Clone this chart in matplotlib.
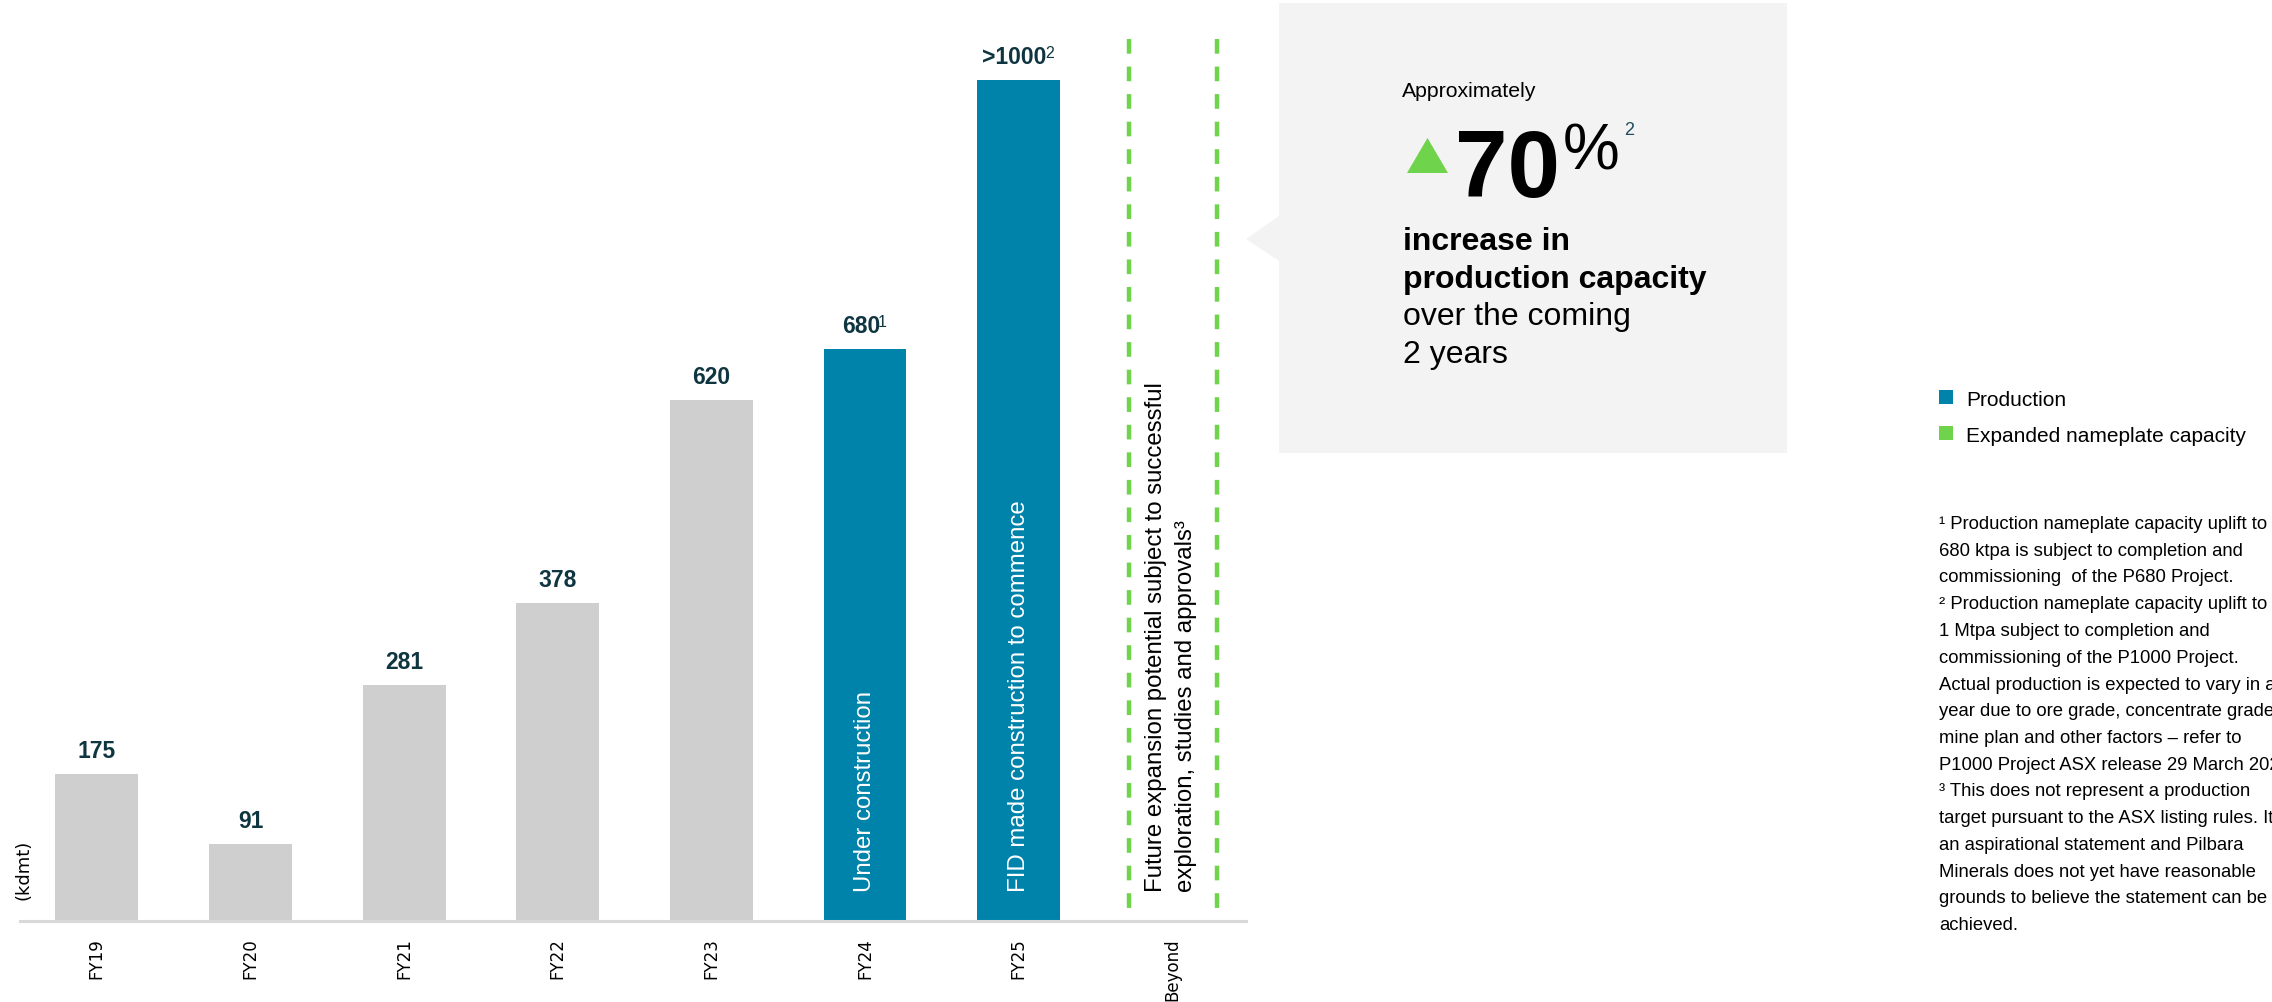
import matplotlib.pyplot as plt
from matplotlib.patches import Rectangle, Polygon

plt.rcParams['font.family'] = ['Liberation Sans', 'DejaVu Sans']

GREY = '#cfcfcf'
BLUE = '#0083ab'
GREEN = '#6fd34b'
LABEL = '#0f3540'
BOX = '#f3f3f3'

# chart data
categories = ['FY19', 'FY20', 'FY21', 'FY22', 'FY23', 'FY24', 'FY25', 'Beyond']
production = [175, 91, 281, 378, 620, 680, 1000]
value_labels = ['175', '91', '281', '378', '620', '680', '>1000']
label_notes = ['', '', '', '', '', '1', '2']
bar_colors = [GREY] * 5 + [BLUE] * 2
bar_notes = {5: 'Under construction', 6: 'FID made construction to commence'}
beyond_lines = ['Future expansion potential subject to successful',
                'exploration, studies and approvals\u00b3']

legend_items = [('Production', BLUE), ('Expanded nameplate capacity', GREEN)]

callout_lines = [('increase in', 'bold'), ('production capacity', 'bold'),
                 ('over the coming', 'normal'), ('2 years', 'normal')]

footnotes = [
    '\u00b9 Production nameplate capacity uplift to',
    '680 ktpa is subject to completion and',
    'commissioning  of the P680 Project.',
    '\u00b2 Production nameplate capacity uplift to ~',
    '1 Mtpa subject to completion and',
    'commissioning of the P1000 Project.',
    'Actual production is expected to vary in any',
    'year due to ore grade, concentrate grade,',
    'mine plan and other factors \u2013 refer to',
    'P1000 Project ASX release 29 March 2023.',
    '\u00b3 This does not represent a production',
    'target pursuant to the ASX listing rules. It is',
    'an aspirational statement and Pilbara',
    'Minerals does not yet have reasonable',
    'grounds to believe the statement can be',
    'achieved.',
]

W, H = 2272, 1003
fig = plt.figure(figsize=(W / 100, H / 100), dpi=100)

# overlay in pixel units for the callout, legend and notes
deco = fig.add_axes([0, 0, 1, 1], zorder=0)
deco.set_xlim(0, W)
deco.set_ylim(H, 0)
deco.axis('off')

ax = fig.add_axes([20 / W, 1 - 922 / H, 1226 / W, 882 / H], zorder=1)
ax.patch.set_visible(False)

x = list(range(len(production)))
ax.bar(x, production, width=0.54, color=bar_colors)
ax.set_xlim(-0.5, 7.48)
ax.set_ylim(0, 1049)

for s in ['top', 'right', 'left']:
    ax.spines[s].set_visible(False)
ax.spines['bottom'].set_color('#d9d9d9')
ax.spines['bottom'].set_linewidth(2.2)
ax.set_yticks([])
ax.set_xticks(range(len(categories)))
ax.set_xticklabels(categories, rotation=90, fontsize=12, family='DejaVu Sans')
ax.tick_params(axis='x', length=0, pad=11.5)

# value labels with optional note markers
for i, (v, lab, note) in enumerate(zip(production, value_labels, label_notes)):
    shift = -4 if note else 0
    t = ax.annotate(lab, (i, v), xytext=(shift, 17), textcoords='offset pixels',
                    ha='center', va='baseline', fontsize=16.5, fontweight='bold',
                    color=LABEL)
    if note:
        ax.annotate(note, xy=(1, 0), xycoords=t, xytext=(-2, 11),
                    textcoords='offset pixels', ha='left', va='baseline',
                    fontsize=11.5, color=LABEL)

for i, note in bar_notes.items():
    ax.annotate(note, (i, 0), xytext=(0, 30), textcoords='offset pixels',
                rotation=90, rotation_mode='anchor', ha='left', va='center',
                color='white', fontsize=17.3)

# dashed frame for the "Beyond" column
for xd in [6.72, 7.29]:
    ax.plot([xd, xd], [1049, 0], color=GREEN, lw=3.2,
            linestyle=(0, (3.3, 2.9)), clip_on=False)

for dx, line in zip([-16, 14], beyond_lines):
    ax.annotate(line, (7, 0), xytext=(dx, 30), textcoords='offset pixels',
                rotation=90, rotation_mode='anchor', ha='left', va='center',
                color='black', fontsize=17.3)

deco.text(24, 900, '(kdmt)', rotation=90, ha='center', va='bottom',
          fontsize=13, family='DejaVu Sans', color='black')

# callout box
deco.add_patch(Rectangle((1279, 4), 508, 450, color=BOX, lw=0))
deco.add_patch(Polygon([(1279, 217), (1246, 240), (1279, 262)], closed=True,
                       color=BOX, lw=0))
deco.text(1402, 97, 'Approximately', fontsize=15.3, va='baseline', ha='left')
deco.add_patch(Polygon([(1407, 174), (1427.5, 139), (1448, 174)], closed=True,
                       color=GREEN, lw=0))
deco.text(1455, 197, '70', fontsize=68, fontweight='bold', va='baseline', ha='left')
deco.text(1563, 169, '%', fontsize=46, va='baseline', ha='left')
deco.text(1624, 135, '2', fontsize=13, va='baseline', ha='left', color='#1e4d5c')
for k, (line, weight) in enumerate(callout_lines):
    deco.text(1403, 250 + k * 37.7, line, fontsize=23, fontweight=weight,
              va='baseline', ha='left')

# legend
for k, (name, col) in enumerate(legend_items):
    yc = 398 + k * 36
    deco.add_patch(Rectangle((1939, yc - 7), 14, 14, color=col, lw=0))
    deco.text(1966, yc + 7.5, name, fontsize=15, va='baseline', ha='left')

# footnotes
for k, line in enumerate(footnotes):
    deco.text(1939, 529 + k * 26.75, line, fontsize=13.3, va='baseline', ha='left')

fig.savefig('out.png', dpi=100)
